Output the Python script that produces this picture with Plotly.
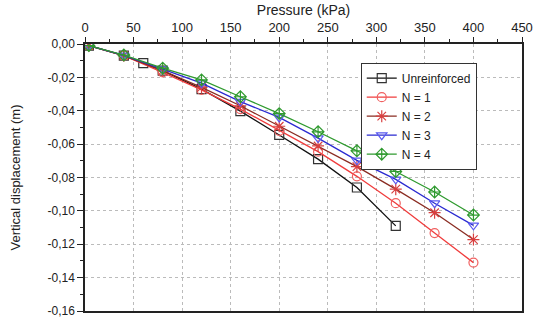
import plotly.graph_objects as go

# Data
p_unr = [4, 40, 60, 80, 120, 160, 200, 240, 280, 320]
d_unr = [-0.001, -0.007, -0.0115, -0.016, -0.027, -0.0402, -0.0545, -0.069, -0.086, -0.109]

p_n = [4, 40, 80, 120, 160, 200, 240, 280, 320, 360, 400]
d_n1 = [-0.001, -0.007, -0.017, -0.0275, -0.039, -0.052, -0.0645, -0.0793, -0.0954, -0.1133, -0.131]
d_n2 = [-0.001, -0.007, -0.016, -0.026, -0.037, -0.0493, -0.0611, -0.0735, -0.087, -0.1011, -0.1172]
d_n3 = [-0.001, -0.0068, -0.015, -0.0235, -0.0345, -0.044, -0.0564, -0.0697, -0.0811, -0.0954, -0.1087]
d_n4 = [-0.001, -0.0066, -0.0145, -0.0215, -0.0316, -0.0417, -0.0526, -0.064, -0.0764, -0.0887, -0.1025]

names = ["Unreinforced", "N = 1", "N = 2", "N = 3", "N = 4"]

x_ticks = [0, 50, 100, 150, 200, 250, 300, 350, 400, 450]
y_ticks = [0, -0.02, -0.04, -0.06, -0.08, -0.10, -0.12, -0.14, -0.16]
y_labels = ["0,00", "-0,02", "-0,04", "-0,06", "-0,08", "-0,10", "-0,12", "-0,14", "-0,16"]

fig = go.Figure()

series = [
    (p_unr, d_unr, names[0], "#111111", "#333333", "square-open", 9),
    (p_n, d_n1, names[1], "#f03c3c", "#f06060", "circle-open", 9),
    (p_n, d_n2, names[2], "#8a2c22", "#d84040", "asterisk-open", 10),
    (p_n, d_n3, names[3], "#2a2ad0", "#5a5af0", "triangle-down-open", 9),
    (p_n, d_n4, names[4], "#2f9a2f", "#2f9a2f", "diamond-cross-open", 9),
]

for px, py, nm, lc, mc, sym, sz in series:
    fig.add_trace(go.Scatter(
        x=px, y=py, name=nm, mode="lines+markers",
        line=dict(color=lc, width=1.3),
        marker=dict(symbol=sym, size=sz, color=mc, line=dict(color=mc, width=1.2)),
    ))

axis_font = dict(family="Liberation Sans, Arial, sans-serif", size=12, color="#222222")

fig.update_layout(
    width=542, height=327,
    margin=dict(l=85, r=19, t=44, b=9),
    paper_bgcolor="white", plot_bgcolor="white",
    font=axis_font,
    showlegend=True,
    legend=dict(
        x=0.631, y=0.93, xanchor="left", yanchor="top",
        bordercolor="#333333", borderwidth=1, bgcolor="white",
        font=dict(family="Liberation Sans, Arial, sans-serif", size=12, color="#222222"),
        tracegroupgap=0, itemwidth=30,
    ),
    xaxis=dict(
        side="top", range=[0, 450],
        tickvals=x_ticks, ticktext=[str(v) for v in x_ticks],
        ticks="outside", ticklen=5, tickwidth=1.2, tickcolor="#222222",
        minor=dict(dtick=25, ticks="outside", ticklen=3, tickcolor="#222222", showgrid=False),
        showgrid=True, gridcolor="#bbbbbb", griddash="dot", gridwidth=1,
        showline=True, linecolor="#222222", linewidth=1.5, mirror=True,
        zeroline=False,
        title=dict(text="Pressure (kPa)", font=dict(size=14), standoff=1),
        tickfont=dict(size=13),
    ),
    yaxis=dict(
        range=[-0.16, 0],
        tickvals=y_ticks, ticktext=y_labels,
        ticks="outside", ticklen=6, tickwidth=1.2, tickcolor="#222222",
        minor=dict(dtick=0.01, ticks="outside", ticklen=3, tickcolor="#222222", showgrid=False),
        showgrid=True, gridcolor="#bbbbbb", griddash="dot", gridwidth=1,
        showline=True, linecolor="#222222", linewidth=1.5, mirror=True,
        zeroline=False,
        title=dict(text="Vertical displacement (m)", font=dict(size=13), standoff=24),
        tickfont=dict(size=12),
    ),
)

fig.write_html("out.html")
